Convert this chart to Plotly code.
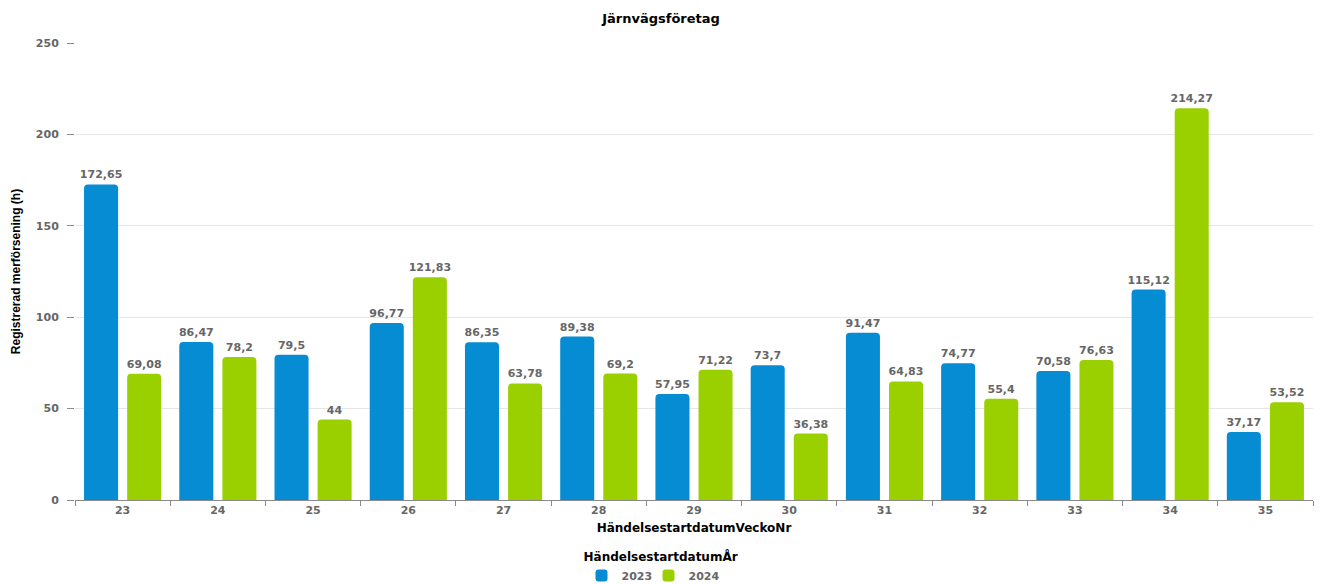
import plotly.graph_objects as go

weeks = ["23", "24", "25", "26", "27", "28", "29", "30", "31", "32", "33", "34", "35"]
delay_2023 = [172.65, 86.47, 79.5, 96.77, 86.35, 89.38, 57.95, 73.7, 91.47, 74.77, 70.58, 115.12, 37.17]
delay_2024 = [69.08, 78.2, 44, 121.83, 63.78, 69.2, 71.22, 36.38, 64.83, 55.4, 76.63, 214.27, 53.52]
y_ticks = [0, 50, 100, 150, 200, 250]

FONT = "DejaVu Sans, Verdana, sans-serif"
NARROW = "Liberation Sans, Arial, sans-serif"
LABEL_GREY = "#666666"


def sv(v):
    return f"{v:g}".replace(".", ",")


fig = go.Figure()
for name, vals, color in [("2023", delay_2023, "#068CD2"), ("2024", delay_2024, "#9BD000")]:
    fig.add_trace(go.Bar(
        x=weeks, y=vals, name=name,
        marker=dict(color=color, line=dict(width=0)),
        text=[sv(v) for v in vals],
        textposition="outside",
        constraintext="none",
        textfont=dict(family=FONT, size=11, color=LABEL_GREY, weight="bold"),
        cliponaxis=False,
        hovertemplate="%{x}: %{text}<extra>" + name + "</extra>",
    ))

fig.update_layout(
    width=1322, height=584,
    margin=dict(l=75, r=9, t=43, b=84),
    paper_bgcolor="white", plot_bgcolor="white",
    barmode="group", bargap=0.095, bargroupgap=0.21, barcornerradius=4,
    font=dict(family=FONT, size=11, color=LABEL_GREY),
    title=dict(text="Järnvägsföretag", x=0.5, xanchor="center", y=0.968, yanchor="middle",
               font=dict(family=FONT, size=13, color="#000000", weight="bold")),
    xaxis=dict(
        type="category",
        title=dict(text="HändelsestartdatumVeckoNr", standoff=7,
                   font=dict(family=FONT, size=12, color="#000000", weight="bold")),
        showline=True, linecolor="#8a8a8a", linewidth=1,
        ticks="outside", tickson="boundaries", ticklen=5, tickcolor="#8a8a8a",
        tickfont=dict(family=FONT, size=11, color=LABEL_GREY, weight="bold"),
        showgrid=False,
    ),
    yaxis=dict(
        range=[0, 250], tickvals=y_ticks,
        title=dict(text="Registrerad merförsening (h)", standoff=12,
                   font=dict(family=NARROW, size=12, color="#000000", weight="bold")),
        showline=False, zeroline=False,
        showgrid=True, gridcolor="#e6e6e6", gridwidth=1,
        ticks="outside", ticklen=7, tickcolor="#8a8a8a", ticklabelstandoff=6,
        tickfont=dict(family=FONT, size=11, color=LABEL_GREY, weight="bold"),
    ),
    legend=dict(
        orientation="h", xref="container", x=0.5, xanchor="center",
        yref="container", y=0.066, yanchor="top",
        title=dict(text="HändelsestartdatumÅr", side="top",
                   font=dict(family=FONT, size=12, color="#000000", weight="bold")),
        font=dict(family=FONT, size=11, color=LABEL_GREY, weight="bold"),
        itemwidth=30, tracegroupgap=0, entrywidth=22,
    ),
    showlegend=True,
)

fig.write_html("out.html")
